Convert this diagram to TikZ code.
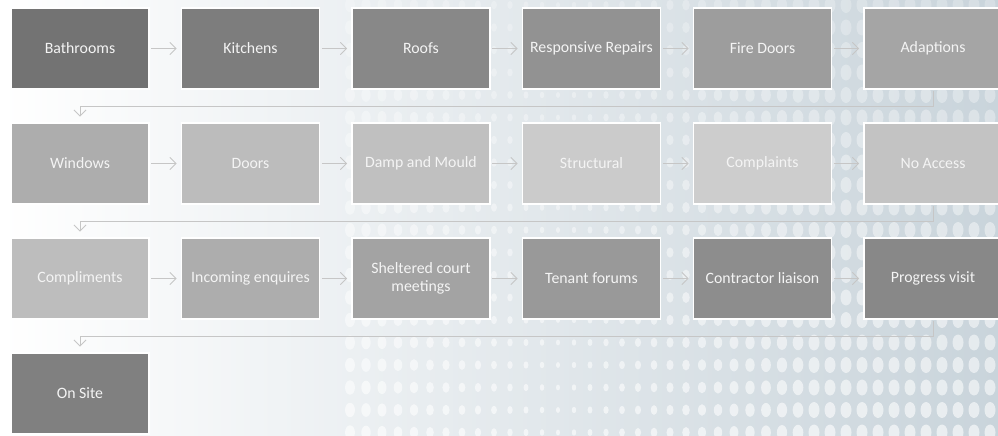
\documentclass[tikz,border=0pt]{standalone}
\usepackage{fontspec}
\setmainfont{Carlito}
\usetikzlibrary{arrows.meta}

\definecolor{bgmid}{HTML}{DCDCDC}
\definecolor{bgright}{HTML}{C9D4DB}
\definecolor{linkgray}{HTML}{C6C6C6}
\definecolor{labelwhite}{HTML}{F4F4F4}

\begin{document}
\begin{tikzpicture}[x=0.02cm,y=-0.02cm,
    box/.style={draw=white, line width=0.6pt, minimum width=2.76cm, minimum height=1.62cm,
                inner sep=2pt, align=center, text=labelwhite, font=\fontsize{9}{10.5}\selectfont},
    link/.style={draw=linkgray, line width=0.5pt, -{Straight Barb[length=3.5pt,width=7pt]},
                 shorten <=1pt, shorten >=2.5pt}]

    % background with the dot screen
    \useasboundingbox (0,0) rectangle (998,436);
    \shade[left color=white, middle color=bgmid, right color=bgright] (0,0) rectangle (998,436);
    \foreach \c in {0,...,40}
      \foreach \r in {0,...,19} {
        \pgfmathsetmacro\dx{350+16*\c}
        \pgfmathsetmacro\dy{5+22.5*\r}
        \pgfmathsetmacro\rr{0.04+0.07*min(abs(\dx-560)/250,1)}
        \pgfmathsetmacro\op{0.25+0.35*\r/19}
        \fill[white, opacity=\op] (\dx,\dy) ellipse[x radius=\rr cm, y radius=1.45*\rr cm];
      }

    % row 1
    \node[box, fill={rgb,255:red,115;green,115;blue,115}] (bath)  at (80,48.5)  {Bathrooms};
    \node[box, fill={rgb,255:red,125;green,125;blue,125}] (kitch) at (250.5,48.5) {Kitchens};
    \node[box, fill={rgb,255:red,136;green,136;blue,136}] (roof)  at (421,48.5) {Roofs};
    \node[box, fill={rgb,255:red,146;green,146;blue,146}] (resp)  at (591.5,48.5) {Responsive Repairs};
    \node[box, fill={rgb,255:red,157;green,157;blue,157}] (fire)  at (762.5,48.5) {Fire Doors};
    \node[box, fill={rgb,255:red,165;green,165;blue,165}] (adapt) at (933,48.5) {Adaptions};

    % row 2
    \node[box, fill={rgb,255:red,173;green,173;blue,173}] (wind)  at (80,163.5)  {Windows};
    \node[box, fill={rgb,255:red,188;green,188;blue,188}] (door)  at (250.5,163.5) {Doors};
    \node[box, fill={rgb,255:red,192;green,192;blue,192}] (damp)  at (421,163.5) {Damp and Mould};
    \node[box, fill={rgb,255:red,203;green,203;blue,203}] (struc) at (591.5,163.5) {Structural};
    \node[box, fill={rgb,255:red,205;green,205;blue,205}] (compl) at (762.5,163.5) {Complaints};
    \node[box, fill={rgb,255:red,195;green,195;blue,195}] (noacc) at (933,163.5) {No Access};

    % row 3
    \node[box, fill={rgb,255:red,189;green,189;blue,189}] (compli) at (80,278.5)  {Compliments};
    \node[box, fill={rgb,255:red,173;green,173;blue,173}] (enq)    at (250.5,278.5) {Incoming enquires};
    \node[box, fill={rgb,255:red,163;green,163;blue,163}] (shelt)  at (421,278.5) {Sheltered court\\meetings};
    \node[box, fill={rgb,255:red,153;green,153;blue,153}] (tenant) at (591.5,278.5) {Tenant forums};
    \node[box, fill={rgb,255:red,141;green,141;blue,141}] (contr)  at (762.5,278.5) {Contractor liaison};
    \node[box, fill={rgb,255:red,136;green,136;blue,136}] (prog)   at (933,278.5) {Progress visit};

    % row 4
    \node[box, fill={rgb,255:red,128;green,128;blue,128}] (site) at (80,393.5) {On Site};

    % connectors along each row
    \draw[link] (bath) -- (kitch);
    \draw[link] (kitch) -- (roof);
    \draw[link] (roof) -- (resp);
    \draw[link] (resp) -- (fire);
    \draw[link] (fire) -- (adapt);
    \draw[link] (wind) -- (door);
    \draw[link] (door) -- (damp);
    \draw[link] (damp) -- (struc);
    \draw[link] (struc) -- (compl);
    \draw[link] (compl) -- (noacc);
    \draw[link] (compli) -- (enq);
    \draw[link] (enq) -- (shelt);
    \draw[link] (shelt) -- (tenant);
    \draw[link] (tenant) -- (contr);
    \draw[link] (contr) -- (prog);

    % wrap to the next row
    \draw[link, shorten >=3.3pt] (adapt.south) -- ++(0,17) -| (wind.north);
    \draw[link, shorten >=3.3pt] (noacc.south) -- ++(0,17) -| (compli.north);
    \draw[link, shorten >=3.3pt] (prog.south) -- ++(0,17) -| (site.north);
\end{tikzpicture}
\end{document}
